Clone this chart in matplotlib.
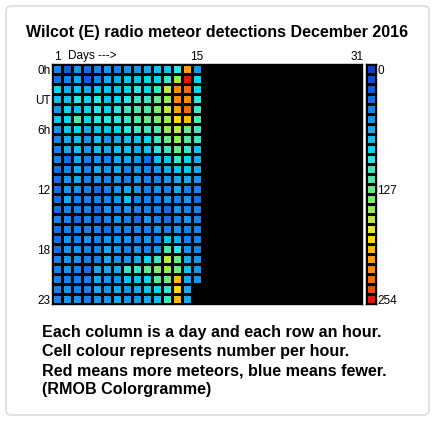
import matplotlib
matplotlib.use("Agg")
import matplotlib.pyplot as plt
import numpy as np
from matplotlib.colors import ListedColormap, BoundaryNorm
from matplotlib.patches import FancyBboxPatch

plt.rcParams["font.family"] = ["Liberation Sans", "DejaVu Sans"]

title = "Wilcot (E) radio meteor detections December 2016"
notes = [
    "Each column is a day and each row an hour.",
    "Cell colour represents number per hour.",
    "Red means more meteors, blue means fewer.",
    "(RMOB Colorgramme)",
]

n_days = 31
hour_labels = {0: "0h", 3: "UT", 6: "6h", 12: "12", 18: "18", 23: "23"}
day_labels = {1: "1", 15: "15", 31: "31"}
scale_labels = {0: "0", 12: "127", 23: "254"}

# meteors per hour, rows = hour 0..23, columns = day 1..15 (None = no data)
counts = [
    [48, 26, 58, 37, 48, 58, 48, 58, 58, 69, 79, 79, 101, 206, 58],
    [37, 48, 69, 26, 48, 69, 69, 79, 79, 90, 90, 111, 153, 249, 90],
    [90, 69, 79, 69, 79, 79, 79, 90, 101, 90, 111, 164, 217, 228, 90],
    [79, 79, 101, 90, 101, 79, 90, 101, 111, 111, 132, 153, 217, 217, 101],
    [58, 90, 79, 90, 101, 90, 101, 111, 122, 122, 143, 164, 206, 228, 111],
    [79, 90, 122, 90, 101, 101, 101, 111, 122, 132, 143, 153, 185, 196, 122],
    [58, 79, 90, 69, 79, 79, 90, 101, 111, 111, 122, 153, 164, 132, 111],
    [48, 69, 79, 58, 79, 58, 69, 79, 79, 90, 111, 132, 153, 122, 111],
    [48, 69, 79, 58, 79, 69, 79, 79, 69, 79, 101, 111, 132, 111, 79],
    [48, 37, 69, 48, 58, 48, 69, 69, 58, 37, 79, 79, 111, 90, 69],
    [37, 48, 69, 48, 69, 58, 69, 48, 58, 48, 58, 69, 79, 79, 69],
    [37, 58, 69, 48, 58, 48, 58, 48, 58, 48, 48, 58, 69, 69, 58],
    [37, 58, 58, 48, 37, 48, 58, 69, 58, 48, 58, 48, 69, 48, 48],
    [37, 69, 48, 48, 48, 48, 58, 79, 48, 48, 48, 58, 48, 58, 37],
    [37, 48, 48, 48, 37, 58, 48, 58, 48, 48, 48, 37, 58, 48, 48],
    [48, 48, 37, 48, 37, 48, 58, 48, 37, 58, 48, 37, 48, 58, 48],
    [37, 48, 48, 48, 48, 37, 48, 48, 48, 48, 58, 48, 58, 48, 48],
    [37, 58, 48, 58, 48, 58, 58, 58, 48, 58, 48, 79, 69, 48, 48],
    [37, 58, 58, 48, 48, 69, 58, 48, 58, 48, 58, 122, 101, 58, 48],
    [48, 58, 58, 48, 48, 69, 58, 58, 69, 90, 111, 164, 132, 69, 58],
    [48, 58, 48, 37, 69, 69, 69, 111, 111, 132, 143, 153, 132, 79, 58],
    [48, 48, 48, 48, 69, 58, 58, 79, 79, 90, 122, 132, 196, 69, 58],
    [48, 58, 48, 48, 69, 58, 69, 58, 69, 79, 90, 101, 185, 69, None],
    [48, 58, 58, 48, 58, 58, 69, 58, 58, 69, 79, 111, 196, 69, None],
]

# RMOB palette, 24 steps from 0 to 254
palette = [
    (10, 60, 220), (15, 75, 225), (15, 90, 230), (20, 110, 235),
    (20, 130, 240), (20, 150, 240), (20, 170, 240), (10, 195, 240),
    (0, 215, 240), (40, 230, 225), (60, 230, 195), (80, 230, 165),
    (100, 235, 135), (125, 235, 105), (150, 235, 80), (185, 235, 60),
    (230, 230, 40), (255, 215, 0), (255, 185, 0), (255, 160, 0),
    (255, 135, 0), (250, 105, 0), (240, 75, 0), (230, 20, 0),
]
cmap = ListedColormap([(r / 255, g / 255, b / 255) for r, g, b in palette])
norm = BoundaryNorm(np.linspace(0, 254, len(palette) + 1), len(palette))

data = np.full((24, n_days), np.nan)
for h, row in enumerate(counts):
    for d, v in enumerate(row):
        if v is not None:
            data[h, d] = v
data = np.ma.masked_invalid(data)

W, H = 437, 421
fig = plt.figure(figsize=(W / 100, H / 100), dpi=100)
fig.patch.set_facecolor("white")

# light rounded frame, behind everything
frame = FancyBboxPatch((6 / W, 6 / H), 423 / W, 409 / H,
                       boxstyle="round,pad=0,rounding_size=0.012",
                       transform=fig.transFigure, facecolor="white",
                       edgecolor="#dcdcdc", linewidth=1.2, zorder=-10)
fig.patches.append(frame)

def px(x0, y0, x1, y1):
    return [x0 / W, 1 - y1 / H, (x1 - x0) / W, (y1 - y0) / H]

small = 8.5

ax = fig.add_axes(px(52, 64, 362, 304))
ax.set_facecolor("black")
mesh = ax.pcolormesh(np.arange(0.5, n_days + 1), np.arange(-0.5, 24),
                     data, cmap=cmap, norm=norm,
                     edgecolors="black", linewidth=0.8)
ax.set_xlim(0.5, n_days + 0.5)
ax.set_ylim(23.5, -0.5)
for s in ax.spines.values():
    s.set_color("black")
    s.set_linewidth(1.0)

ax.set_yticks(list(hour_labels.keys()))
ax.set_yticklabels(list(hour_labels.values()), fontsize=small)
ax.xaxis.tick_top()
ax.set_xticks(list(day_labels.keys()))
ax.set_xticklabels(list(day_labels.values()), fontsize=small)
ax.tick_params(length=0, pad=1)
ax.text(2.1, -0.7, "Days --->", fontsize=small, ha="left", va="bottom")

# colour key: one boxed cell per palette step
cax = fig.add_axes(px(366, 64, 376, 304))
cax.pcolormesh([0, 1], np.arange(len(palette) + 1),
               np.arange(len(palette)).reshape(-1, 1),
               cmap=cmap, vmin=-0.5, vmax=len(palette) - 0.5,
               edgecolors="black", linewidth=0.8)
cax.set_xlim(0, 1)
cax.set_ylim(len(palette), 0)
for s in cax.spines.values():
    s.set_color("black")
    s.set_linewidth(1.0)
cax.set_xticks([])
cax.yaxis.tick_right()
cax.set_yticks([k + 0.5 for k in scale_labels])
cax.set_yticklabels(list(scale_labels.values()), fontsize=small)
cax.tick_params(length=0, pad=1)

fig.text(217 / W, 1 - 32 / H, title, ha="center", va="center",
         fontsize=11.5, fontweight="bold")
for i, line in enumerate(notes):
    fig.text(42 / W, 1 - (333 + i * 18.8) / H, line, ha="left", va="center",
             fontsize=11.6, fontweight="bold")

fig.savefig("out.png", dpi=100)
